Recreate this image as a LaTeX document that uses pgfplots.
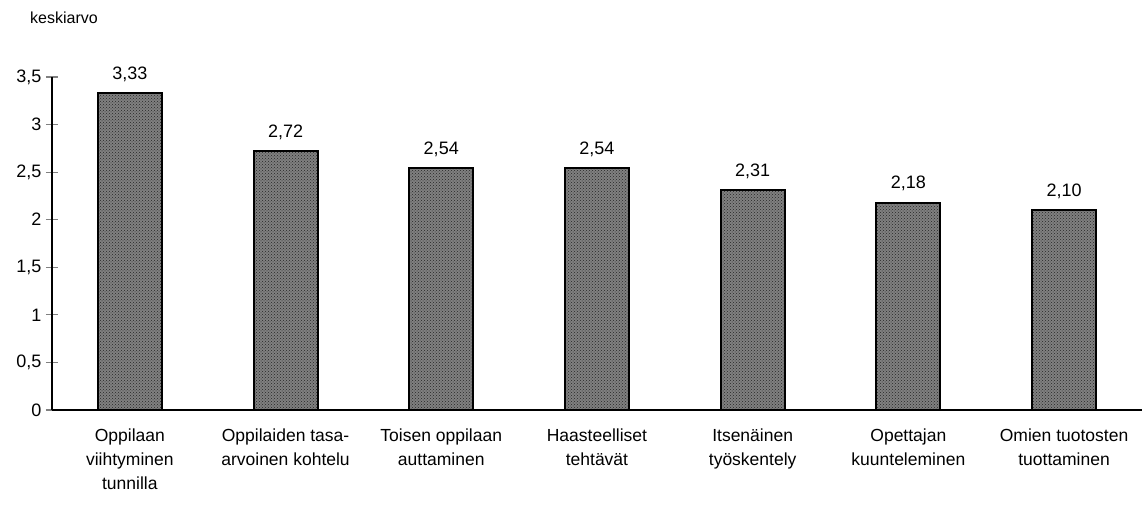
\documentclass[border=0pt]{standalone}
\usepackage{fontspec}
\setmainfont{Liberation Sans}
\usepackage{pgfplots}
\pgfplotsset{compat=1.18}
\usetikzlibrary{patterns}
\begin{document}
\begin{tikzpicture}
\begin{axis}[
  scale only axis,
  width=1090pt, height=333pt,
  at={(0,0)}, anchor=south west,
  ybar, bar width=64pt,
  xmin=-0.5, xmax=6.5,
  ymin=0, ymax=3.5,
  ytick={0,0.5,1,1.5,2,2.5,3,3.5},
  xtick=data,
  xticklabels={{Oppilaan\\viihtyminen\\tunnilla},{Oppilaiden tasa-\\arvoinen kohtelu},{Toisen oppilaan\\auttaminen},{Haasteelliset\\tehtävät},{Itsenäinen\\työskentely},{Opettajan\\kuunteleminen},{Omien tuotosten\\tuottaminen}},
  xticklabel style={align=center, font=\fontsize{17.5}{24}\selectfont, yshift=-9pt},
  yticklabel style={font=\fontsize{18}{20}\selectfont, xshift=-1pt},
  xtick style={draw=none},
  axis x line*=bottom, axis y line*=left,
  axis line style={line width=1.2pt, -},
  ytick style={line width=1.2pt},
  tick align=center, major tick length=12pt,
  /pgf/number format/use comma,
  /pgf/number format/assume math mode=true,
  ylabel={keskiarvo},
  ylabel style={rotate=-90, at={(axis description cs:0.011,1.177)}, anchor=center, font=\fontsize{16}{18}\selectfont},
  nodes near coords={\pgfmathprintnumber[fixed, fixed zerofill, precision=2, use comma, assume math mode=true]{\pgfplotspointmeta}},
  nodes near coords style={font=\fontsize{18}{20}\selectfont, yshift=7pt},
  clip=false,
]
\addplot[draw=black, line width=2pt, fill=black!50, postaction={pattern=crosshatch dots, pattern color=black!85}]
 coordinates {(0,3.33) (1,2.72) (2,2.54) (3,2.54) (4,2.31) (5,2.18) (6,2.10)};
\end{axis}
\pgfresetboundingbox
\path[use as bounding box] (-52pt,-95pt) rectangle (1090pt,410pt);
\end{tikzpicture}
\end{document}
